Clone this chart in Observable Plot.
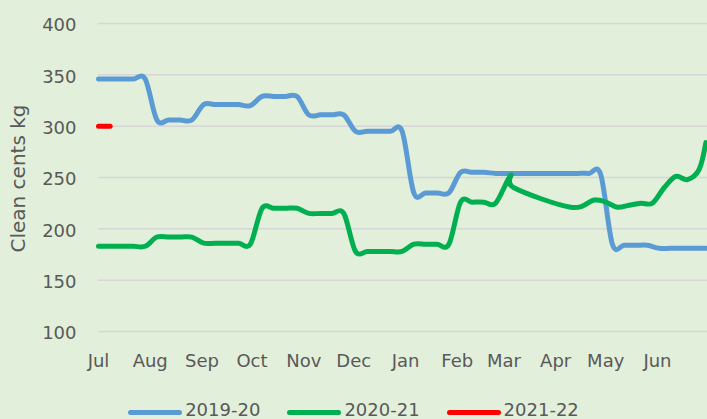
<!DOCTYPE html>
<html>
<head>
<meta charset="utf-8">
<script src="https://cdn.jsdelivr.net/npm/d3@7"></script>
<script src="https://cdn.jsdelivr.net/npm/@observablehq/plot@0.6"></script>
<style>
  html, body { margin: 0; padding: 0; background: #e2efda; overflow: hidden; }
  #wrap { width: 707px; height: 419px; position: relative; font-family: "DejaVu Sans", sans-serif; color: #595959; }
  #legend { display: flex; justify-content: center; gap: 27px; padding-top: 14px; font-size: 18px; line-height: 22px; }
  .item { display: flex; align-items: center; }
  .sw { width: 54px; height: 5px; border-radius: 3px; margin-right: 3px; position: relative; top: 2px; }
</style>
</head>
<body>
<div id="wrap"><div id="chart"></div><div id="legend"></div></div>
<script>
// Month tick labels (day-of-season offsets from 1 July)
const monthLabels = ["Jul","Aug","Sep","Oct","Nov","Dec","Jan","Feb","Mar","Apr","May","Jun"];
const monthDays   = [0, 31, 62, 92, 123, 153, 184, 215, 243, 274, 304, 335];
const yTicks = [100, 150, 200, 250, 300, 350, 400];

const seriesNames  = ["2019-20", "2020-21", "2021-22"];
const seriesColors = ["#5b9bd5", "#00b050", "#ff0000"];

// 2019-20 (weekly)
const blueDays = [0,7,14,21,28,35,42,49,56,63,70,77,84,91,98,105,112,119,126,133,140,147,154,161,168,175,182,189,196,203,210,217,224,231,238,245,252,259,266,273,280,287,294,301,308,315,322,329,336,343,350,357,364];
const blueValues = [346,346,346,346,346,306,306,306,306,321,321,321,321,320,329,329,329,329,311,311,311,311,295,295,295,295,295,235,235,235,235,255,255,255,254,254,254,254,254,254,254,254,254,253,185,184,184,184,181,181,181,181,181];

// 2020-21
const greenDays = [0,7,14,21,28,35,42,49,56,63,70,77,84,91,98,105,112,119,126,133,140,147,154,161,168,175,182,189,196,203,210,217,224,231,238,247,249,283,297,304,311,318,325,332,339,346,353,360,364];
const greenValues = [183,183,183,183,183,192,192,192,192,186,186,186,186,185,220,220,220,220,215,215,215,215,178,178,178,178,178,185,185,185,185,226,226,226,225,252,240,221,228,226,221,223,225,225,240,251,248,258,284];

// 2021-22
const redDays = [0, 7];
const redValues = [300, 300];

const toRows = (days, vals) => days.map((d, i) => ({day: d, value: vals[i]}));
const blue = toRows(blueDays, blueValues);
const green = toRows(greenDays, greenValues);
const red = toRows(redDays, redValues);

const lineOpts = (color) => ({x: "day", y: "value", stroke: color, strokeWidth: 5, strokeLinecap: "round", strokeLinejoin: "round", curve: "catmull-rom", tension: 0});

const chart = Plot.plot({
  width: 707,
  height: 385,
  marginLeft: 98,
  marginRight: 0,
  marginTop: 23,
  marginBottom: 54,
  style: {background: "transparent", fontFamily: "DejaVu Sans", fontSize: "18px", color: "#595959", overflow: "hidden"},
  x: {domain: [0, 365]},
  y: {domain: [100, 400]},
  marks: [
    Plot.ruleY(yTicks, {stroke: "#d6d6d6", strokeWidth: 1.5}),
    Plot.axisY(yTicks, {tickSize: 0, tickPadding: 22, dy: 2, label: null}),
    Plot.axisX(monthDays, {tickSize: 0, tickPadding: 23, label: null, tickFormat: d => monthLabels[monthDays.indexOf(d)]}),
    Plot.text(["Clean cents kg"], {frameAnchor: "left", textAnchor: "middle", dx: -80, dy: 1, rotate: -90, fontSize: 20, fill: "#595959"}),
    Plot.line(blue, lineOpts(seriesColors[0])),
    Plot.line(green, lineOpts(seriesColors[1])),
    Plot.line(red, lineOpts(seriesColors[2]))
  ]
});
document.getElementById("chart").appendChild(chart);

const legend = document.getElementById("legend");
seriesNames.forEach((name, i) => {
  const it = document.createElement("div");
  it.className = "item";
  const sw = document.createElement("span");
  sw.className = "sw";
  sw.style.background = seriesColors[i];
  const tx = document.createElement("span");
  tx.textContent = name;
  it.appendChild(sw);
  it.appendChild(tx);
  legend.appendChild(it);
});
</script>
</body>
</html>
